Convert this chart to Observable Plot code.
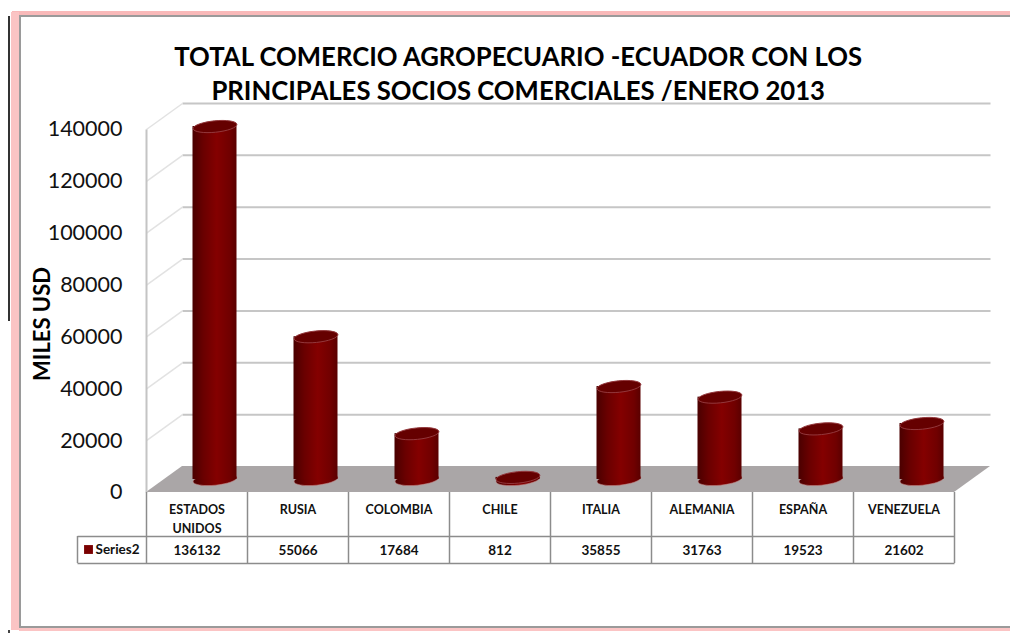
<!DOCTYPE html>
<html>
<head>
<meta charset="utf-8">
<script src="https://cdn.jsdelivr.net/npm/d3@7"></script>
<script src="https://cdn.jsdelivr.net/npm/@observablehq/plot@0.6"></script>
<style>
  html, body { margin: 0; padding: 0; background: #fff; width: 1010px; height: 634px; overflow: hidden; }
  #chart { position: relative; width: 1010px; height: 634px; }
  #chart svg { position: absolute; left: 0; top: 0; background: transparent; }
  .band { position: absolute; }
</style>
</head>
<body>
<div id="chart">
  <!-- slide frame around the chart -->
  <div class="band" style="left:12px;top:11px;width:998px;height:5px;background:#f9b9b9"></div>
  <div class="band" style="left:12px;top:15px;width:998px;height:2px;background:#9a9a9a"></div>
  <div class="band" style="left:11px;top:12px;width:8px;height:618px;background:#fbc4c4"></div>
  <div class="band" style="left:19px;top:16px;width:2px;height:612px;background:#9a9a9a"></div>
  <div class="band" style="left:8px;top:16px;width:2px;height:305px;background:#333"></div>
  <div class="band" style="left:19px;top:626px;width:991px;height:2px;background:#9a9a9a"></div>
  <div class="band" style="left:19px;top:628px;width:991px;height:3px;background:#fbc4c4"></div>
  <div class="band" style="left:8px;top:630px;width:2px;height:3px;background:#444"></div>
</div>
<script>
const categories = ["ESTADOS\nUNIDOS", "RUSIA", "COLOMBIA", "CHILE", "ITALIA", "ALEMANIA", "ESPAÑA", "VENEZUELA"];
const values = [136132, 55066, 17684, 812, 35855, 31763, 19523, 21602];
const seriesName = "Series2";
const yTicks = [0, 20000, 40000, 60000, 80000, 100000, 120000, 140000];

const FONT = "Lato, 'Open Sans', sans-serif";
const W = 1010, H = 634;
const X0 = 146, COL = 101, Y0 = 492, Y1 = 129;

// Chart-space units per pixel, so the pseudo-3D depth and the table rows live in data units.
const xu = 1 / COL;
const yu = 140000 / (Y0 - Y1);
const depthX = 36 * xu, depthY = 26 * yu;
const barX = 18 * xu, barY = 13 * yu;
const barHalf = 22 * xu;
const row1 = -44 * yu, row2 = -71 * yu;
const legendLeft = -69 * xu;

const rows = values.map((v, i) => ({i, v, name: categories[i]}));
const columns = d3.range(categories.length + 1);

// Tilted ellipse symbol used for the cylinder caps and bases.
const cap = {
  draw(ctx, size) {
    const rx = Math.sqrt(size / Math.PI), ry = rx * 0.26, t = -0.1;
    const k = 0.5523;
    const pt = (a, b) => [a * Math.cos(t) - b * Math.sin(t), a * Math.sin(t) + b * Math.cos(t)];
    ctx.moveTo(...pt(rx, 0));
    ctx.bezierCurveTo(...pt(rx, k * ry), ...pt(k * rx, ry), ...pt(0, ry));
    ctx.bezierCurveTo(...pt(-k * rx, ry), ...pt(-rx, k * ry), ...pt(-rx, 0));
    ctx.bezierCurveTo(...pt(-rx, -k * ry), ...pt(-k * rx, -ry), ...pt(0, -ry));
    ctx.bezierCurveTo(...pt(k * rx, -ry), ...pt(rx, -k * ry), ...pt(rx, 0));
    ctx.closePath();
  }
};

const mid = d => d.i + 0.5 + barX;

const plot = Plot.plot({
  width: W, height: H,
  margin: 0,
  style: {background: "transparent", fontFamily: FONT, color: "#000"},
  x: {type: "linear", domain: [0, categories.length], range: [X0, X0 + COL * categories.length], axis: null},
  y: {type: "linear", domain: [0, 140000], range: [Y0, Y1], axis: null},
  marks: [
    // floor
    Plot.areaX([{y: 0, a: 0, b: 8}, {y: depthY, a: depthX, b: 8 + depthX}], {
      y: "y", x1: "a", x2: "b", fill: "#aaa6a7"
    }),
    // back wall grid
    Plot.link(yTicks.slice(1), {
      x1: depthX, x2: 8 + depthX, y1: d => d + depthY, y2: d => d + depthY,
      stroke: "#c6c6c6", strokeWidth: 2
    }),
    // side wall diagonals and front edge
    Plot.link(yTicks.slice(1), {
      x1: 0, x2: depthX, y1: d => d, y2: d => d + depthY,
      stroke: "#e2e2e2", strokeWidth: 1.5
    }),
    Plot.link([0], {x1: 0, x2: 0, y1: 0, y2: 140000, stroke: "#c4c4c4", strokeWidth: 2}),
    // cylinder bases, bodies and caps
    Plot.dot(rows, {
      x: mid, y: barY, r: 22, symbol: cap, fill: "url(#body)", stroke: "#c08080", strokeWidth: 0.6
    }),
    Plot.rect(rows, {
      x1: d => mid(d) - barHalf, x2: d => mid(d) + barHalf,
      y1: barY, y2: d => d.v + barY,
      fill: "url(#body)"
    }),
    Plot.dot(rows, {
      x: mid, y: d => d.v + barY, r: 22, symbol: cap, fill: "#650000", stroke: "#93383c", strokeWidth: 1
    }),
    // data table
    Plot.ruleX(columns, {x: d => d, y1: 0, y2: row2, stroke: "#8c8c8c", strokeWidth: 1.5}),
    Plot.link([row1, row2], {x1: legendLeft, x2: 8, y1: d => d, y2: d => d, stroke: "#8c8c8c", strokeWidth: 1.5}),
    Plot.ruleX([legendLeft], {x: d => d, y1: row1, y2: row2, stroke: "#8c8c8c", strokeWidth: 1.5}),
    Plot.text(rows, {
      x: d => d.i + 0.5, y: 0, text: "name", dy: 8, lineHeight: 1.5, lineAnchor: "top",
      textAnchor: "middle", fontSize: 12.5, fontWeight: 700, fill: "#111"
    }),
    Plot.text(rows, {
      x: d => d.i + 0.5, y: row1, text: d => String(d.v), dy: 14,
      textAnchor: "middle", fontSize: 13.5, fontWeight: 700, fill: "#111"
    }),
    Plot.dot([seriesName], {
      x: legendLeft + 11 * xu, y: row1, dy: 13, symbol: "square", r: 5, fill: "#7a0000"
    }),
    Plot.text([seriesName], {
      x: legendLeft + 18 * xu, y: row1, dy: 13, text: d => d,
      textAnchor: "start", fontSize: 13.5, fontWeight: 700, fill: "#111"
    }),
    // value axis labels
    Plot.text(yTicks, {
      x: -24 * xu, y: d => d, text: d => String(d), textAnchor: "end",
      fontSize: 21.5, fill: "#111"
    }),
    Plot.text(["MILES USD"], {
      x: -104 * xu, y: 65000, text: d => d, rotate: -90,
      fontSize: 22, fontWeight: 700, fill: "#000"
    }),
    // title
    Plot.text(["TOTAL COMERCIO AGROPECUARIO -ECUADOR CON LOS\nPRINCIPALES SOCIOS COMERCIALES /ENERO 2013"], {
      x: 3.68, y: 140000, dy: -57, text: d => d, lineHeight: 1.32,
      fontSize: 25.7, fontWeight: 700, fill: "#000", textAnchor: "middle"
    })
  ]
});

// Horizontal shading of the cylinder walls.
const defs = d3.select(plot).insert("defs", ":first-child");
const grad = defs.append("linearGradient").attr("id", "body").attr("x1", 0).attr("x2", 1).attr("y1", 0).attr("y2", 0);
[[0, "#4a0000"], [0.25, "#6a0000"], [0.55, "#840000"], [0.85, "#700000"], [1, "#5a0000"]]
  .forEach(([o, c]) => grad.append("stop").attr("offset", o).attr("stop-color", c));

document.getElementById("chart").appendChild(plot);
</script>
</body>
</html>
